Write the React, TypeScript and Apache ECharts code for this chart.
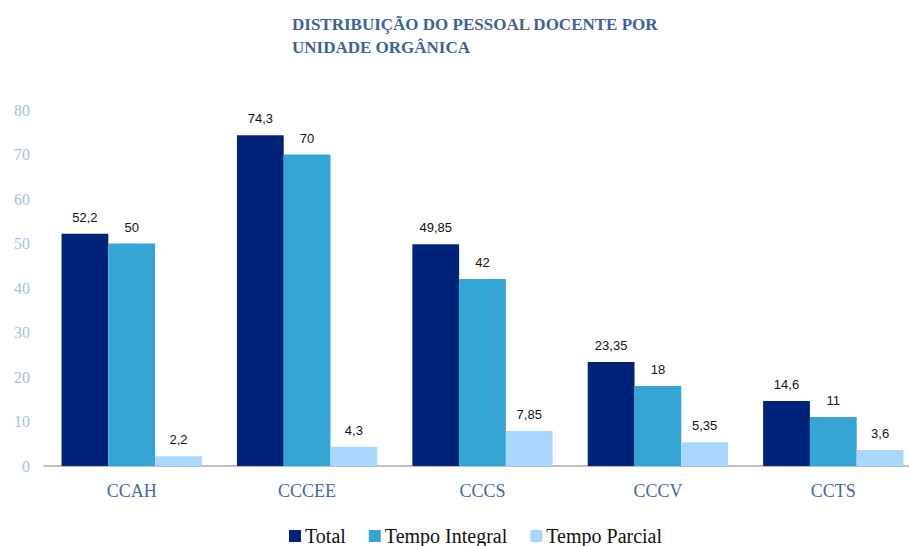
import React, { useEffect, useRef } from "react";
import * as echarts from "echarts";

const categories = ["CCAH", "CCCEE", "CCCS", "CCCV", "CCTS"];
const totalValues = [52.2, 74.3, 49.85, 23.35, 14.6];
const integralValues = [50, 70, 42, 18, 11];
const parcialValues = [2.2, 4.3, 7.85, 5.35, 3.6];
const seriesNames = ["Total", "Tempo Integral", "Tempo Parcial"];
const yTicks = { min: 0, max: 80, interval: 10 };

const SERIF = "'Liberation Serif', 'DejaVu Serif', serif";
const SANS = "'Liberation Sans', Arial, sans-serif";
const colors = ["#00237A", "#34A5D5", "#A8D8FF"];

export default function App() {
  const ref = useRef<HTMLDivElement>(null);
  useEffect(() => {
    document.body.style.margin = "0";
    if (!ref.current) return;
    const chart = echarts.init(ref.current, null, { renderer: "svg" });
    const label = {
      show: true,
      position: "top" as const,
      distance: 10,
      color: "#111",
      fontFamily: SANS,
      fontSize: 13,
      formatter: (p: any) => String(p.value).replace(".", ","),
    };
    const datasets = [totalValues, integralValues, parcialValues];
    chart.setOption({
      animation: false,
      backgroundColor: "#fff",
      title: {
        text: "DISTRIBUIÇÃO DO PESSOAL DOCENTE POR\nUNIDADE ORGÂNICA",
        left: 287,
        top: 8,
        textStyle: {
          fontFamily: SERIF,
          fontWeight: "bold",
          fontSize: 17,
          color: "#3D6396",
          lineHeight: 23,
        },
      },
      legend: {
        top: 526,
        left: 289,
        padding: 0,
        data: seriesNames,
        itemWidth: 12,
        itemHeight: 12,
        itemGap: 23,
        icon: "rect",
        textStyle: { fontFamily: SERIF, fontSize: 20, lineHeight: 20, color: "#111", padding: [0, 0, 0, -1] },
      },
      grid: { left: 44, top: 110, width: 877, height: 356, containLabel: false, outerBoundsMode: "none" },
      xAxis: {
        type: "category",
        data: categories,
        axisLine: { lineStyle: { color: "#BFBFBF", width: 2 } },
        axisTick: { show: false },
        axisLabel: {
          margin: 16,
          fontFamily: SERIF,
          fontSize: 18,
          color: "#3F6BA0",
        },
      },
      yAxis: {
        type: "value",
        min: yTicks.min,
        max: yTicks.max,
        interval: yTicks.interval,
        splitLine: { show: false },
        axisLine: { show: false },
        axisTick: { show: false },
        axisLabel: {
          margin: 14,
          fontFamily: SERIF,
          fontSize: 16,
          color: "#A6C0E0",
        },
      },
      series: seriesNames.map((name, i) => ({
        name,
        type: "bar",
        data: datasets[i],
        barGap: "0%",
        barCategoryGap: "20%",
        itemStyle: { color: colors[i] },
        label,
      })),
    });
    return () => chart.dispose();
  }, []);
  return <div ref={ref} style={{ width: 909, height: 546 }} />;
}
